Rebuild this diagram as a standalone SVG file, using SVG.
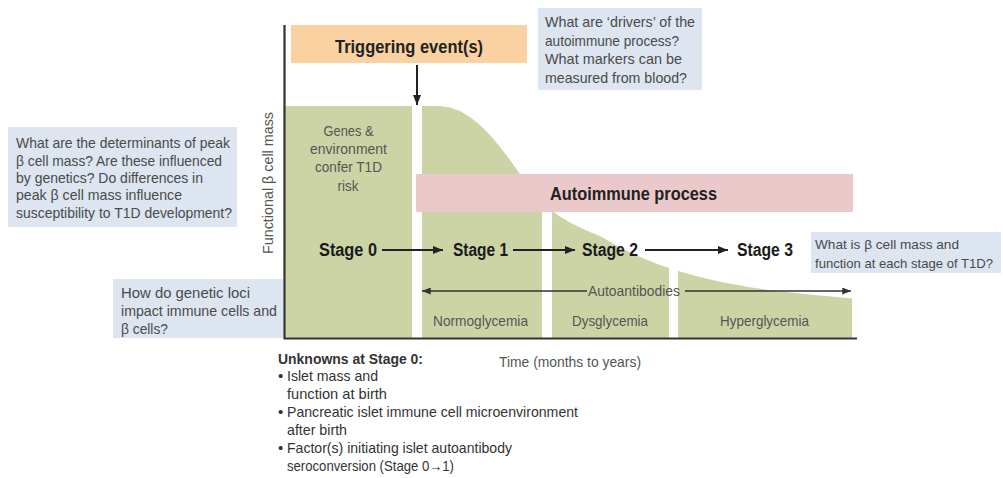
<svg xmlns="http://www.w3.org/2000/svg" width="1003" height="478" viewBox="0 0 1003 478">
<style>
text{font-family:"Liberation Sans Narrow","Liberation Sans",Arial,sans-serif;}
.q{font-size:15px;fill:#4a4a4a;}
.qs{font-size:13px;fill:#4a4a4a;}
.lbl{font-size:15px;fill:#555;}
.stage{font-size:18px;font-weight:bold;fill:#1a1a1a;}
.head{font-size:18px;font-weight:bold;fill:#222;}
.unk{font-size:15px;fill:#333;}
.qbox{fill:#dce5f0;}
.axis{stroke:#333;stroke-width:2.2;fill:none;}
.conn{stroke:#222;stroke-width:2;fill:none;}
.thin{stroke:#333;stroke-width:1.6;fill:none;}
</style>
<defs>
<marker id="ah" viewBox="0 0 10 8" refX="10" refY="4" markerWidth="10" markerHeight="8" markerUnits="userSpaceOnUse" orient="auto"><path d="M0,0 L10,4 L0,8 z" fill="#222"/></marker>
<marker id="ahs" viewBox="0 0 10 8" refX="10" refY="4" markerWidth="9" markerHeight="7" markerUnits="userSpaceOnUse" orient="auto"><path d="M0,0 L10,4 L0,8 z" fill="#333"/></marker>
</defs>
<rect width="1003" height="478" fill="#fff"/>

<g id="beta-cell-curve">
<path fill="#ccd4a6" d="M285,338 V106 H440 L450,107.5 L460,111 L470,117 L480,125 L490,135 L500,147 L510,160 L520,174 L530,188 L540,200 L550,209.5 L560,216.5 L570,222.5 L580,227.5 L590,232 L600,236 L620,247.4 L640,256.9 L660,264.9 L680,271.5 L700,277 L720,281.7 L750,287.2 L780,291.4 L810,294.6 L852,298.5 V338 Z"/>
<rect x="412" y="100" width="10" height="238" fill="#fff"/>
<rect x="542" y="100" width="10" height="238" fill="#fff"/>
<rect x="669" y="100" width="9" height="238" fill="#fff"/>
</g>

<g id="axes">
<path class="axis" d="M284.5,25 V338.5 H857"/>
<text class="lbl" transform="translate(273,183) rotate(-90)" text-anchor="middle" textLength="142" lengthAdjust="spacingAndGlyphs">Functional β cell mass</text>
<text class="lbl" x="499" y="367" textLength="142" lengthAdjust="spacingAndGlyphs" fill="#444">Time (months to years)</text>
</g>

<g id="trigger">
<rect x="291" y="25" width="236" height="38" fill="#fad1a1"/>
<text class="head" x="409" y="53" text-anchor="middle" textLength="148" lengthAdjust="spacingAndGlyphs">Triggering event(s)</text>
</g>

<g id="autoimmune">
<rect x="416" y="174" width="437" height="38" fill="#ebc9cb"/>
<text class="head" x="633.5" y="200" text-anchor="middle" textLength="167" lengthAdjust="spacingAndGlyphs">Autoimmune process</text>
</g>

<g id="genes">
<text class="lbl" x="348.5" y="135.5" text-anchor="middle" textLength="50" lengthAdjust="spacingAndGlyphs">Genes &amp;</text>
<text class="lbl" x="348.5" y="153.5" text-anchor="middle" textLength="77" lengthAdjust="spacingAndGlyphs">environment</text>
<text class="lbl" x="348.5" y="172" text-anchor="middle" textLength="67" lengthAdjust="spacingAndGlyphs">confer T1D</text>
<text class="lbl" x="348" y="190.5" text-anchor="middle" textLength="21" lengthAdjust="spacingAndGlyphs">risk</text>
</g>

<g id="stage0"><text class="stage" x="319" y="256" textLength="58" lengthAdjust="spacingAndGlyphs">Stage 0</text></g>
<g id="stage1"><text class="stage" x="453" y="256" textLength="55" lengthAdjust="spacingAndGlyphs">Stage 1</text></g>
<g id="stage2"><text class="stage" x="582" y="256" textLength="56" lengthAdjust="spacingAndGlyphs">Stage 2</text></g>
<g id="stage3"><text class="stage" x="737" y="256" textLength="56" lengthAdjust="spacingAndGlyphs">Stage 3</text></g>

<g id="glycemia">
<text class="lbl" x="433" y="326" textLength="95" lengthAdjust="spacingAndGlyphs">Normoglycemia</text>
<text class="lbl" x="572" y="326" textLength="76" lengthAdjust="spacingAndGlyphs">Dysglycemia</text>
<text class="lbl" x="720" y="326" textLength="89" lengthAdjust="spacingAndGlyphs">Hyperglycemia</text>
</g>

<g id="connectors">
<line class="conn" x1="417" y1="65" x2="417" y2="105" marker-end="url(#ah)"/>
<line class="conn" x1="382" y1="250" x2="443" y2="250" marker-end="url(#ah)"/>
<line class="conn" x1="513" y1="250" x2="575" y2="250" marker-end="url(#ah)"/>
<line class="conn" x1="645" y1="250" x2="728" y2="250" marker-end="url(#ah)"/>
<line class="thin" x1="587" y1="291" x2="422" y2="291" marker-end="url(#ahs)"/>
<line class="thin" x1="685" y1="291" x2="851" y2="291" marker-end="url(#ahs)"/>
<text class="lbl" x="588" y="296" textLength="92" lengthAdjust="spacingAndGlyphs" fill="#444">Autoantibodies</text>
</g>

<g id="q-peak">
<rect class="qbox" x="8" y="127" width="229" height="100"/>
<text class="q" x="16" y="148" textLength="214" lengthAdjust="spacingAndGlyphs">What are the determinants of peak</text>
<text class="q" x="16" y="165.5" textLength="206" lengthAdjust="spacingAndGlyphs">β cell mass? Are these influenced</text>
<text class="q" x="16" y="183" textLength="187" lengthAdjust="spacingAndGlyphs">by genetics? Do differences in</text>
<text class="q" x="16" y="200" textLength="166" lengthAdjust="spacingAndGlyphs">peak β cell mass influence</text>
<text class="q" x="16" y="217.5" textLength="216" lengthAdjust="spacingAndGlyphs">susceptibility to T1D development?</text>
</g>

<g id="q-drivers">
<rect class="qbox" x="538" y="8" width="164" height="82"/>
<text class="q" x="545" y="27" textLength="150" lengthAdjust="spacingAndGlyphs">What are ‘drivers’ of the</text>
<text class="q" x="545" y="45.5" textLength="134" lengthAdjust="spacingAndGlyphs">autoimmune process?</text>
<text class="q" x="545" y="64" textLength="137" lengthAdjust="spacingAndGlyphs">What markers can be</text>
<text class="q" x="545" y="83" textLength="142" lengthAdjust="spacingAndGlyphs">measured from blood?</text>
</g>

<g id="q-loci">
<rect class="qbox" x="113" y="279" width="170" height="59"/>
<text class="q" x="121" y="297.5" textLength="129" lengthAdjust="spacingAndGlyphs">How do genetic loci</text>
<text class="q" x="121" y="315.5" textLength="156" lengthAdjust="spacingAndGlyphs">impact immune cells and</text>
<text class="q" x="121" y="333.5" textLength="47" lengthAdjust="spacingAndGlyphs">β cells?</text>
</g>

<g id="q-mass">
<rect class="qbox" x="811" y="232" width="190" height="41"/>
<text class="qs" x="815" y="248.5" textLength="144" lengthAdjust="spacingAndGlyphs">What is β cell mass and</text>
<text class="qs" x="815" y="267.5" textLength="178" lengthAdjust="spacingAndGlyphs">function at each stage of T1D?</text>
</g>

<g id="unknowns">
<text class="unk" x="278" y="364" font-weight="bold" textLength="145" lengthAdjust="spacingAndGlyphs">Unknowns at Stage 0:</text>
<text class="unk" x="278" y="380.5">•</text>
<text class="unk" x="287" y="380.5" textLength="91" lengthAdjust="spacingAndGlyphs">Islet mass and</text>
<text class="unk" x="287" y="398.5" textLength="100" lengthAdjust="spacingAndGlyphs">function at birth</text>
<text class="unk" x="278" y="416.5">•</text>
<text class="unk" x="287" y="416.5" textLength="291" lengthAdjust="spacingAndGlyphs">Pancreatic islet immune cell microenvironment</text>
<text class="unk" x="287" y="435" textLength="60" lengthAdjust="spacingAndGlyphs">after birth</text>
<text class="unk" x="278" y="452.5">•</text>
<text class="unk" x="287" y="452.5" textLength="225" lengthAdjust="spacingAndGlyphs">Factor(s) initiating islet autoantibody</text>
<text class="unk" x="287" y="471" textLength="167" lengthAdjust="spacingAndGlyphs">seroconversion (Stage 0→1)</text>
</g>
</svg>
